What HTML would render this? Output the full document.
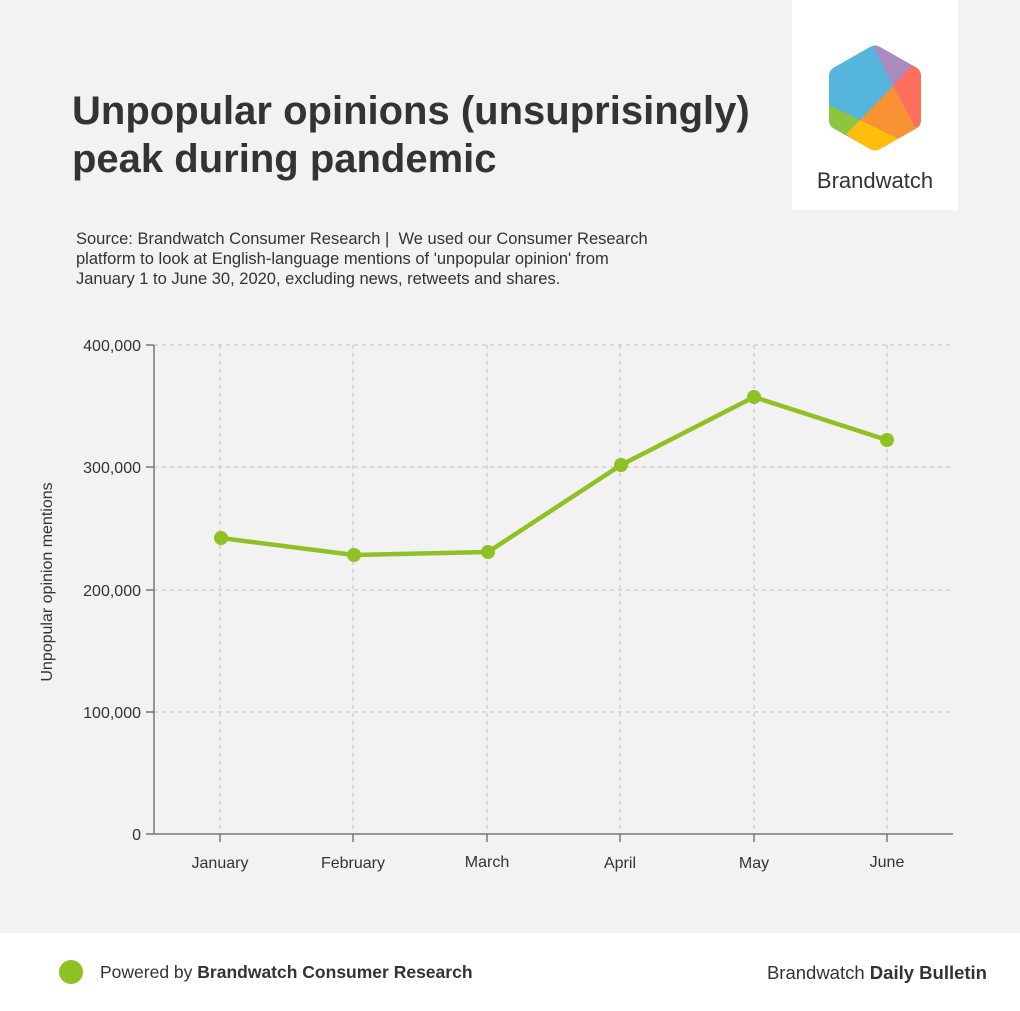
<!DOCTYPE html>
<html><head><meta charset="utf-8"><style>
body{margin:0;width:1020px;height:1011px;background:#f2f2f2;font-family:"Liberation Sans",Arial,sans-serif;position:relative;overflow:hidden}
.t{position:absolute;left:72px;top:87px;font-size:40px;font-weight:bold;color:#333;line-height:48px;letter-spacing:0}
.s{position:absolute;left:76px;top:229px;font-size:16.5px;color:#333;line-height:20px}
.logo{position:absolute;left:792px;top:0;width:166px;height:210px;background:#fff}
.foot{position:absolute;left:0;top:933px;width:1020px;height:78px;background:#fff;font-size:17.5px;color:#333}
</style></head><body>
<div class="t">Unpopular opinions (unsuprisingly)<br>peak during pandemic</div>
<div class="s">Source: Brandwatch Consumer Research |&nbsp; We used our Consumer Research<br>platform to look at English-language mentions of 'unpopular opinion' from<br>January 1 to June 30, 2020, excluding news, retweets and shares.</div>
<div class="logo"></div>
<svg width="1020" height="1011" style="position:absolute;left:0;top:0">
<defs><clipPath id="hx"><path d="M870,47 Q875,44 880,47 L917,68 Q921,71 921,76 L921,120 Q921,125 917,128 L880,149 Q875,152 870,149 L833,128 Q829,125 829,120 L829,76 Q829,71 833,68Z"/></clipPath></defs>
<g clip-path="url(#hx)">
<rect x="820" y="40" width="110" height="120" fill="#56b5dc"/>
<polygon points="870,40 935,40 935,60 893,86" fill="#a98bbd"/>
<polygon points="911,40 940,40 940,130 915,127 893,86 911,67" fill="#ff6f5b"/>
<polygon points="893,86 915,127 940,140 897,138 860,120" fill="#f99233"/>
<polygon points="860,120 897,138 940,150 880,160 846,134" fill="#ffbe0d"/>
<polygon points="820,103 829,105 860,120 846,134 820,160" fill="#8dc53e"/>
</g>
<text x="875" y="188" font-size="22" fill="#333" text-anchor="middle">Brandwatch</text>
<g stroke="#c8c8c8" stroke-dasharray="4,4" stroke-width="1.2">
<line x1="154" x2="953" y1="345" y2="345"/><line x1="154" x2="953" y1="467" y2="467"/><line x1="154" x2="953" y1="590" y2="590"/><line x1="154" x2="953" y1="712" y2="712"/>
<line x1="220" x2="220" y1="345" y2="834"/><line x1="353" x2="353" y1="345" y2="834"/><line x1="487" x2="487" y1="345" y2="834"/><line x1="620" x2="620" y1="345" y2="834"/><line x1="754" x2="754" y1="345" y2="834"/><line x1="887" x2="887" y1="345" y2="834"/>
</g>
<g stroke="#777" stroke-width="1.5">
<line x1="154" y1="345" x2="154" y2="834"/><line x1="154" y1="834" x2="953" y2="834"/>
<line x1="146" x2="154" y1="345" y2="345"/><line x1="146" x2="154" y1="467" y2="467"/><line x1="146" x2="154" y1="590" y2="590"/><line x1="146" x2="154" y1="712" y2="712"/><line x1="146" x2="154" y1="834" y2="834"/>
<line x1="220" x2="220" y1="834" y2="842"/><line x1="353" x2="353" y1="834" y2="842"/><line x1="487" x2="487" y1="834" y2="842"/><line x1="620" x2="620" y1="834" y2="842"/><line x1="754" x2="754" y1="834" y2="842"/><line x1="887" x2="887" y1="834" y2="842"/>
</g>
<g font-size="16" fill="#333" text-anchor="end">
<text x="141" y="351">400,000</text><text x="141" y="473">300,000</text><text x="141" y="596">200,000</text><text x="141" y="718">100,000</text><text x="141" y="840">0</text>
</g>
<g font-size="16" fill="#333" text-anchor="middle">
<text x="220" y="868">January</text><text x="353" y="868">February</text><text x="487" y="867">March</text><text x="620" y="868">April</text><text x="754" y="868">May</text><text x="887" y="867">June</text>
</g>
<text transform="translate(52,582) rotate(-90)" font-size="16" fill="#333" text-anchor="middle">Unpopular opinion mentions</text>
<polyline points="221,538 354,555 488,552 621,465 754,397 887,440" fill="none" stroke="#8fc024" stroke-width="4.5" stroke-linejoin="round"/>
<g fill="#8fc024"><circle cx="221" cy="538" r="7"/><circle cx="354" cy="555" r="7"/><circle cx="488" cy="552" r="7"/><circle cx="621" cy="465" r="7"/><circle cx="754" cy="397" r="7"/><circle cx="887" cy="440" r="7"/></g>
</svg>
<div class="foot">
<svg width="30" height="30" style="position:absolute;left:57px;top:25px"><circle cx="14" cy="14" r="12" fill="#8fc024"/></svg>
<div style="position:absolute;left:100px;top:29px">Powered by <b>Brandwatch Consumer Research</b></div>
<div style="position:absolute;right:33px;top:29px;font-size:18.5px">Brandwatch <b>Daily Bulletin</b></div>
</div>
</body></html>
